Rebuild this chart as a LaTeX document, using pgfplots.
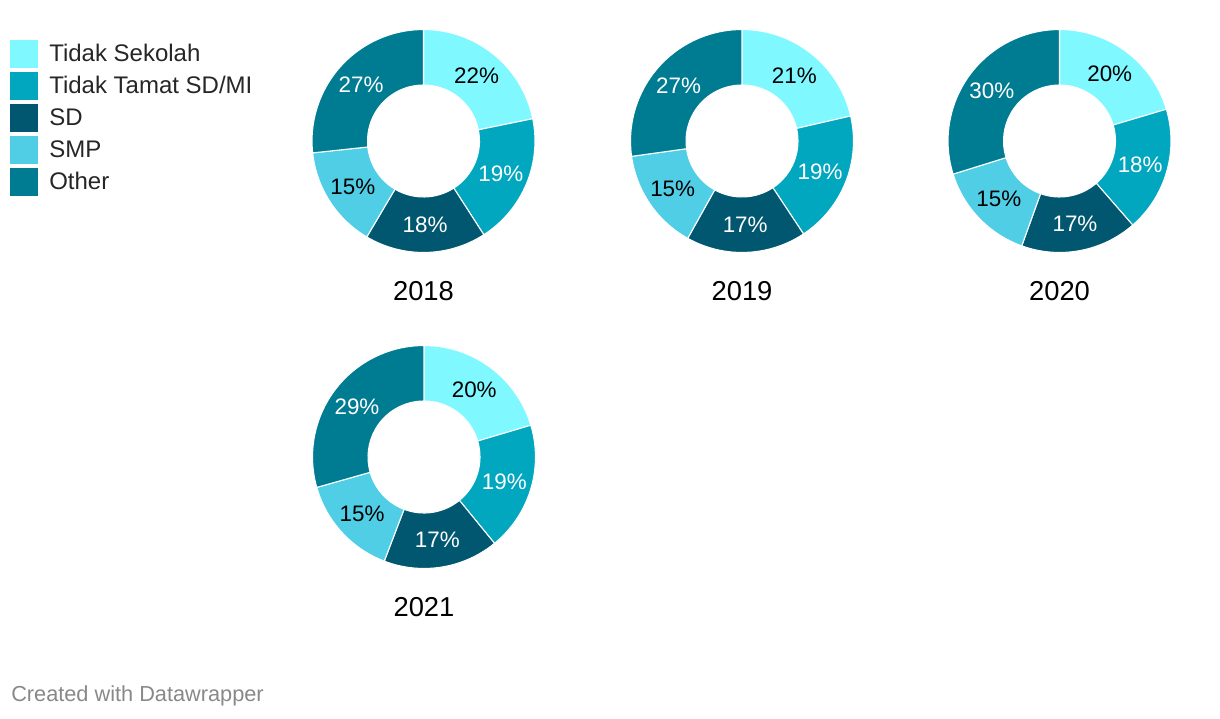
\documentclass[border=0pt]{standalone}
\usepackage{pgfplots}
\usepackage{pgfplotstable}
\pgfplotsset{compat=1.18}
\usepackage{fontspec}
\setmainfont{Liberation Sans}
\definecolor{c1}{HTML}{80F8FF}
\definecolor{c2}{HTML}{00A7BF}
\definecolor{c3}{HTML}{00576F}
\definecolor{c4}{HTML}{50CEE6}
\definecolor{c5}{HTML}{007C92}
\definecolor{foot}{HTML}{888888}

% shares (percent) of each category, per year
\pgfplotstableread{
cat  y2018 y2019 y2020 y2021
1    21.8  21.4  20.4  20.4
2    19.1  19.3  18.2  18.7
3    17.6  17.4  16.9  16.7
4    14.8  14.7  14.7  14.8
5    26.7  27.2  29.8  29.4
}\shares

\def\Rout{83.6pt}
\def\Rin{42pt}
\def\Rmid{63pt}
\newcommand\lblfont{\fontsize{16.8}{18}\selectfont}
\newcommand\yearfont{\fontsize{20.5}{24}\selectfont}
\newcommand\legfont{\fontsize{18}{20}\selectfont}

\newcommand\donut[4]{%
  \def\cum{0}%
  \pgfplotsforeachungrouped \i in {0,...,4}{%
    \pgfplotstablegetelem{\i}{#3}\of\shares
    \let\val\pgfplotsretval
    \pgfmathsetmacro\aA{90-3.6*\cum}%
    \pgfmathsetmacro\cum{\cum+\val}%
    \pgfmathsetmacro\aB{90-3.6*\cum}%
    \pgfmathsetmacro\aM{(\aA+\aB)/2}%
    \pgfmathtruncatemacro\lab{round(\val)}%
    \edef\segcol{\ifcase\i c1\or c2\or c3\or c4\or c5\fi}%
    \edef\txtcol{\ifcase\i black\or white\or white\or black\or white\fi}%
    \edef\temp{%
      \noexpand\filldraw[fill=\segcol, draw=white, line width=0.8pt, line join=round]
        ([shift={(\aA:\Rout)}]axis cs:#1,#2) arc[start angle=\aA, end angle=\aB, radius=\Rout]
        -- ([shift={(\aB:\Rin)}]axis cs:#1,#2) arc[start angle=\aB, end angle=\aA, radius=\Rin] -- cycle;
      \noexpand\node[text=\txtcol, font=\noexpand\lblfont, inner sep=0pt]
        at ([shift={(\aM:\Rmid)}]axis cs:#1,#2) {\lab\noexpand\%};
    }%
    \temp
  }%
  \node[font=\yearfont, inner sep=0pt] at (axis cs:#1,#2-150) {#4};
}

\begin{document}
\begin{tikzpicture}
\begin{axis}[
  hide axis, scale only axis,
  width=915pt, height=538.5pt,
  xmin=0, xmax=1220, ymin=0, ymax=718,
  clip=false]
\addplot[draw=none] coordinates {(0,0) (1220,718)};
\donut{423.5}{577}{y2018}{2018}
\donut{742}{577}{y2019}{2019}
\donut{1059.5}{577}{y2020}{2020}
\donut{424}{261}{y2021}{2021}
% legend
\fill[c1] (axis cs:10,678) rectangle (axis cs:38,650);
\fill[c2] (axis cs:10,646) rectangle (axis cs:38,618);
\fill[c3] (axis cs:10,614) rectangle (axis cs:38,586);
\fill[c4] (axis cs:10,582) rectangle (axis cs:38,554);
\fill[c5] (axis cs:10,550) rectangle (axis cs:38,522);
\node[anchor=base west, inner sep=0pt, font=\legfont, text=black!85] at (axis cs:49,656) {Tidak Sekolah};
\node[anchor=base west, inner sep=0pt, font=\legfont, text=black!85] at (axis cs:49,624) {Tidak Tamat SD/MI};
\node[anchor=base west, inner sep=0pt, font=\legfont, text=black!85] at (axis cs:49,592) {SD};
\node[anchor=base west, inner sep=0pt, font=\legfont, text=black!85] at (axis cs:49,560) {SMP};
\node[anchor=base west, inner sep=0pt, font=\legfont, text=black!85] at (axis cs:49,528) {Other};
\node[anchor=base west, inner sep=0pt, font=\fontsize{16.3}{18}\selectfont, text=foot] at (axis cs:11,17) {Created with Datawrapper};
\end{axis}
\end{tikzpicture}
\end{document}
